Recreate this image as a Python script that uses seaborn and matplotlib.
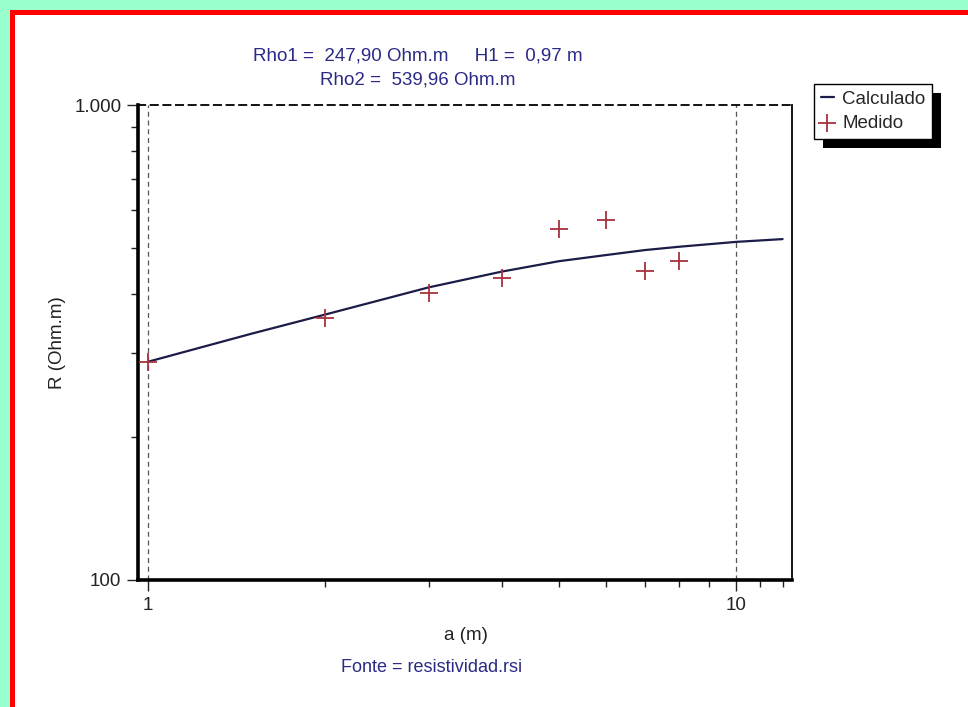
"""Curva de resistividade aparente: calculado x medido (escala log-log)."""

import matplotlib

matplotlib.use("Agg")
import matplotlib.pyplot as plt
import seaborn as sns
from matplotlib.patches import Rectangle
from matplotlib.ticker import FixedLocator, NullFormatter

# espacamento a (m) e resistividade aparente medida
A_MEDIDO = [1, 2, 3, 4, 5, 6, 7, 8]
R_MEDIDO = [288, 356, 402, 433, 548, 574, 448, 469]

# curva calculada
A_CALC = [1, 1.5, 2, 3, 4, 5, 6, 7, 8, 10, 12]
R_CALC = [288, 330, 362, 413, 446, 469, 483, 495, 503, 515, 522]

X_TICKS = [1, 10]
X_TICK_LABELS = ["1", "10"]
Y_TICKS = [100, 1000]
Y_TICK_LABELS = ["100", "1.000"]

TITLE_1 = "Rho1 =  247,90 Ohm.m     H1 =  0,97 m"
TITLE_2 = "Rho2 =  539,96 Ohm.m"
FOOTER = "Fonte = resistividad.rsi"

W, H = 968, 707
FS = 13.5
NAVY = "#2a2a86"
LINE_COLOR = "#1c1c48"
MARK_COLOR = "#a8323e"


def main():
    sns.set_theme(style="white")
    plt.rcParams["font.family"] = ["Liberation Sans", "DejaVu Sans"]

    fig = plt.figure(figsize=(W / 100, H / 100), dpi=100, facecolor="white")
    ax = fig.add_axes([138 / W, 1 - 580 / H, (792 - 138) / W, (580 - 105) / H])

    sns.lineplot(x=A_CALC, y=R_CALC, ax=ax, color=LINE_COLOR, lw=1.6,
                 label="Calculado", legend=False)
    sns.scatterplot(x=A_MEDIDO, y=R_MEDIDO, ax=ax, marker="+", s=170,
                    color=MARK_COLOR, linewidth=1.3, label="Medido",
                    legend=False, zorder=3)

    ax.set_xscale("log")
    ax.set_yscale("log")
    ax.set_xlim(0.962, 12.45)
    ax.set_ylim(100, 1000)

    ax.xaxis.set_major_locator(FixedLocator(X_TICKS))
    ax.set_xticklabels(X_TICK_LABELS)
    ax.xaxis.set_minor_locator(FixedLocator([2, 3, 4, 5, 6, 7, 8, 9, 11, 12]))
    ax.xaxis.set_minor_formatter(NullFormatter())
    ax.yaxis.set_major_locator(FixedLocator(Y_TICKS))
    ax.set_yticklabels(Y_TICK_LABELS)
    ax.yaxis.set_minor_locator(FixedLocator([200, 300, 400, 500, 600, 700, 800, 900]))
    ax.yaxis.set_minor_formatter(NullFormatter())

    ax.tick_params(axis="both", which="major", direction="out", length=8, width=1,
                   color="#222222", labelsize=FS, labelcolor="#222222", pad=4,
                   left=True, bottom=True)
    ax.tick_params(axis="both", which="minor", direction="out", length=5, width=1,
                   color="#222222", left=True, bottom=True)

    ax.grid(False)
    for x in X_TICKS:
        ax.axvline(x, color="#555555", lw=0.9, ls=(0, (4, 3)), zorder=1)

    for side in ("left", "bottom"):
        ax.spines[side].set_linewidth(2.6)
        ax.spines[side].set_color("black")
    ax.spines["right"].set_linewidth(1.3)
    ax.spines["right"].set_color("black")
    ax.spines["top"].set_linewidth(1.3)
    ax.spines["top"].set_color("black")
    ax.spines["top"].set_linestyle((0, (4, 3)))

    ax.set_xlabel("a (m)", fontsize=FS, color="#222222")
    ax.set_ylabel("R (Ohm.m)", fontsize=FS, color="#222222")
    ax.xaxis.set_label_coords((466 - 138) / 654, -(636 - 580) / 475)
    ax.xaxis.label.set_va("center")
    ax.yaxis.set_label_coords(-(138 - 58) / 654, 0.5)
    ax.yaxis.label.set_va("center")

    fig.text(418 / W, 1 - 56 / H, TITLE_1, ha="center", va="center",
             fontsize=FS, color=NAVY)
    fig.text(418 / W, 1 - 80 / H, TITLE_2, ha="center", va="center",
             fontsize=FS, color=NAVY)
    fig.text(432 / W, 1 - 668 / H, FOOTER, ha="center", va="center",
             fontsize=13, color=NAVY)

    handles, labels = ax.get_legend_handles_labels()
    leg = ax.legend(handles, labels, loc="upper left",
                    bbox_to_anchor=(814 / W, 1 - 84 / H),
                    bbox_transform=fig.transFigure, borderaxespad=0,
                    fontsize=FS, frameon=True, fancybox=False, framealpha=1,
                    handlelength=0.7, handletextpad=0.45, borderpad=0.35,
                    labelspacing=0.4)
    leg.get_frame().set_edgecolor("black")
    leg.get_frame().set_linewidth(1.0)
    leg.get_frame().set_facecolor("white")

    # sombra preta do quadro da legenda
    fig.canvas.draw()
    bb = leg.get_window_extent()
    x0, y0 = fig.transFigure.inverted().transform((bb.x0 + 9, bb.y0 - 9))
    x1, y1 = fig.transFigure.inverted().transform((bb.x1 + 9, bb.y1 - 9))
    fig.patches.append(Rectangle((x0, y0), x1 - x0, y1 - y0, transform=fig.transFigure,
                                 facecolor="black", edgecolor="none", zorder=-1))

    # moldura verde e vermelha
    green = "#99ffcc"
    fig.patches.append(Rectangle((0, 1 - 10 / H), 1, 10 / H, transform=fig.transFigure,
                                 facecolor=green, edgecolor="none", zorder=-1))
    fig.patches.append(Rectangle((0, 0), 10 / W, 1, transform=fig.transFigure,
                                 facecolor=green, edgecolor="none", zorder=-1))
    fig.patches.append(Rectangle((10 / W, 1 - 15 / H), 1, 5 / H, transform=fig.transFigure,
                                 facecolor="red", edgecolor="none", zorder=-1))
    fig.patches.append(Rectangle((10 / W, 0), 5 / W, 1 - 10 / H, transform=fig.transFigure,
                                 facecolor="red", edgecolor="none", zorder=-1))

    fig.savefig("out.png", dpi=100, facecolor="white")
    plt.close(fig)


if __name__ == "__main__":
    main()
